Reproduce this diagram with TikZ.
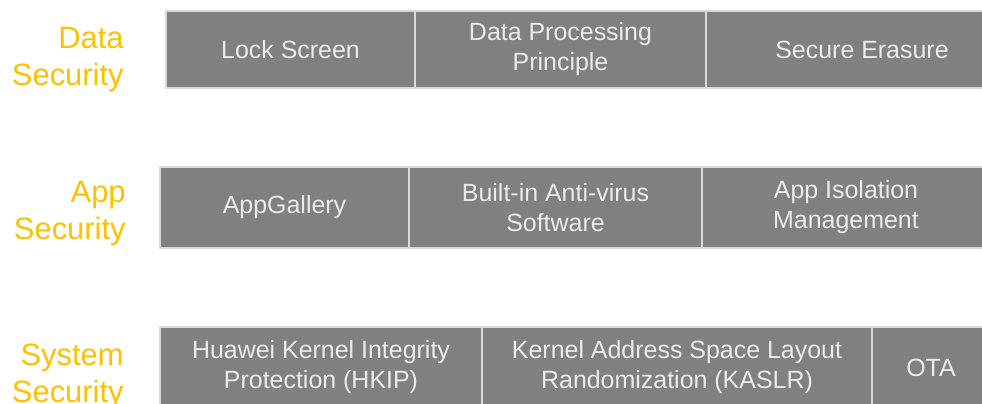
\documentclass[tikz,border=0pt]{standalone}
\usepackage{fontspec}
\setmainfont{Liberation Sans}
\usepackage{xcolor}
\usepackage{tikz}
\usetikzlibrary{positioning}
\definecolor{hwgray}{RGB}{128,128,128}
\definecolor{hwline}{RGB}{217,217,217}
\definecolor{hwtext}{RGB}{235,235,235}
\definecolor{hworange}{RGB}{255,192,0}

\begin{document}
\begin{tikzpicture}[x=0.02cm,y=-0.02cm,
  layer/.style={draw=hwline,line width=0.6pt,fill=hwgray,text=hwtext,align=center,
    inner sep=0pt,outer sep=0pt,font=\fontsize{14.2}{17.1}\selectfont},
  tag/.style={text=hworange,align=right,anchor=east,inner sep=0pt,
    font=\fontsize{17.6}{21}\selectfont}]
\useasboundingbox (0,0) rectangle (982,403);
% data layer
\node[layer,anchor=north west,minimum width=249*0.02cm,minimum height=77*0.02cm] (lock) at (166,11) {Lock Screen};
\node[layer,right=0pt of lock,minimum width=291*0.02cm,minimum height=77*0.02cm] (dpp) {Data Processing\\Principle};
\node[layer,right=0pt of dpp,minimum width=312*0.02cm,minimum height=77*0.02cm] (erase) {Secure Erasure};
\node[tag] (data) at (124,60) {Data\\Security};
% app layer
\node[layer,anchor=north west,minimum width=249*0.02cm,minimum height=81*0.02cm] (gallery) at (160,167) {AppGallery};
\node[layer,right=0pt of gallery,minimum width=293*0.02cm,minimum height=81*0.02cm] (antivirus) {Built-in Anti-virus\\Software};
\node[layer,right=0pt of antivirus,minimum width=288*0.02cm,minimum height=81*0.02cm] (isolation) {App Isolation\\Management};
\node[tag] (app) at (126,214) {App\\Security};
% system layer
\node[layer,anchor=north west,minimum width=322*0.02cm,minimum height=81*0.02cm] (hkip) at (160,327) {Huawei Kernel Integrity\\Protection (HKIP)};
\node[layer,right=0pt of hkip,minimum width=390*0.02cm,minimum height=81*0.02cm] (kaslr) {Kernel Address Space Layout\\Randomization (KASLR)};
\node[layer,right=0pt of kaslr,minimum width=118*0.02cm,minimum height=81*0.02cm] (ota) {OTA};
\node[tag] (system) at (124,376) {System\\Security};
\end{tikzpicture}
\end{document}
